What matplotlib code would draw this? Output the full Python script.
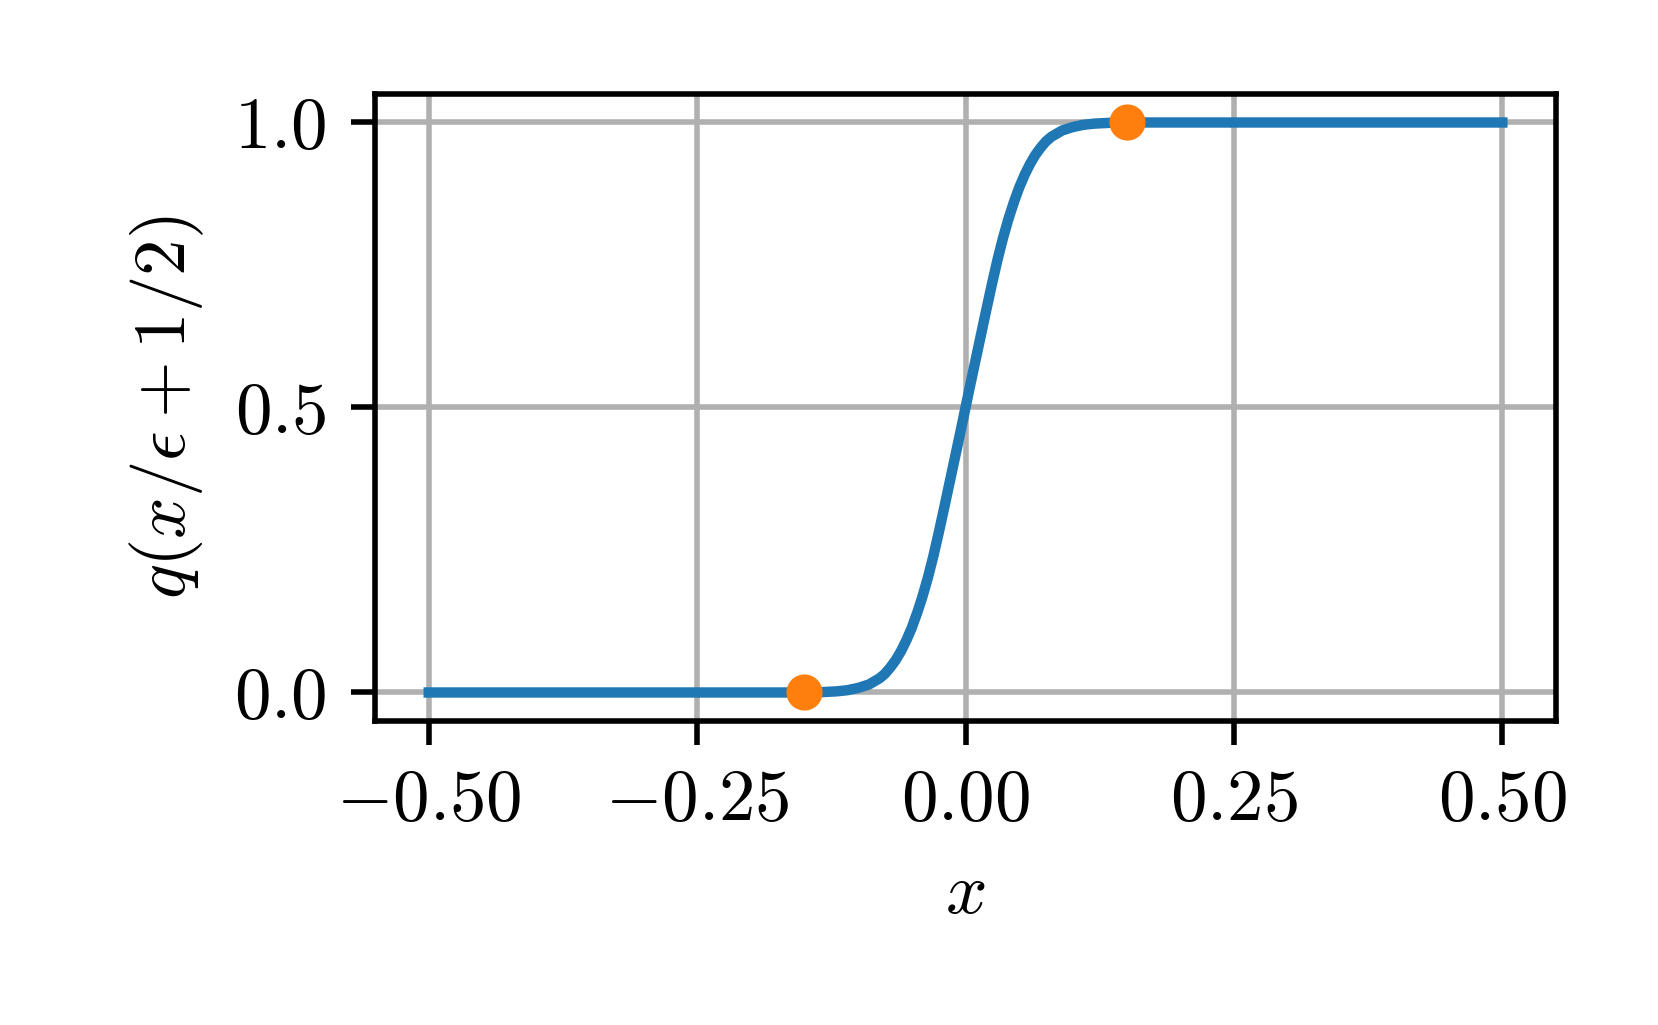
import numpy as np
import matplotlib
matplotlib.use("Agg")
import matplotlib.pyplot as plt

plt.rcParams['mathtext.fontset'] = 'cm'
plt.rcParams['font.family'] = 'serif'
plt.rcParams['font.serif'] = ['cmr10', 'DejaVu Serif']
plt.rcParams['axes.formatter.use_mathtext'] = True
plt.rcParams['font.size'] = 10.5

# curve values
x_vals = [-0.50, -0.20, -0.14, -0.13, -0.12, -0.11, -0.10, -0.09, -0.08, -0.075,
          -0.07, -0.065, -0.06, -0.055, -0.05, -0.045, -0.04, -0.035, -0.03, -0.025,
          -0.02, -0.015, -0.01, -0.005, 0.00, 0.005, 0.01, 0.015, 0.02, 0.025,
          0.03, 0.035, 0.04, 0.045, 0.05, 0.055, 0.06, 0.065, 0.07, 0.075,
          0.08, 0.09, 0.10, 0.11, 0.12, 0.13, 0.14, 0.20, 0.50]
q_vals = [0.000, 0.000, 0.000, 0.001, 0.002, 0.004, 0.008, 0.014, 0.025, 0.033,
          0.044, 0.057, 0.073, 0.092, 0.114, 0.140, 0.169, 0.202, 0.239, 0.280,
          0.323, 0.367, 0.411, 0.455, 0.500, 0.545, 0.589, 0.633, 0.677, 0.720,
          0.761, 0.798, 0.831, 0.860, 0.886, 0.908, 0.927, 0.943, 0.956, 0.967,
          0.975, 0.986, 0.992, 0.996, 0.998, 0.999, 1.000, 1.000, 1.000]

# end points of the transition
pts_x = [-0.15, 0.15]
pts_y = [0.0, 1.0]

xticks = [-0.50, -0.25, 0.00, 0.25, 0.50]
xtick_labels = [r'$-0.50$', r'$-0.25$', r'$0.00$', r'$0.25$', r'$0.50$']
yticks = [0.0, 0.5, 1.0]
ytick_labels = [r'$0.0$', r'$0.5$', r'$1.0$']

fig = plt.figure(figsize=(3.316, 2.05), dpi=500)
ax = fig.add_axes([0.2262, 0.2966, 0.9385 - 0.2262, 0.9083 - 0.2966])

ax.plot(x_vals, q_vals, color='C0', lw=1.5, zorder=2)
ax.plot(pts_x, pts_y, 'o', color='C1', ms=4.2, zorder=3)

ax.set_xticks(xticks)
ax.set_xticklabels(xtick_labels)
ax.set_yticks(yticks)
ax.set_yticklabels(ytick_labels)
ax.set_xlim(-0.55, 0.55)
ax.set_ylim(-0.05, 1.05)
ax.grid(True, color='#b0b0b0', lw=0.8)
ax.set_axisbelow(True)

ax.set_xlabel(r'$x$')
ax.set_ylabel(r'$q(x/\epsilon + 1/2)$')

fig.savefig('out.png', dpi=500)
